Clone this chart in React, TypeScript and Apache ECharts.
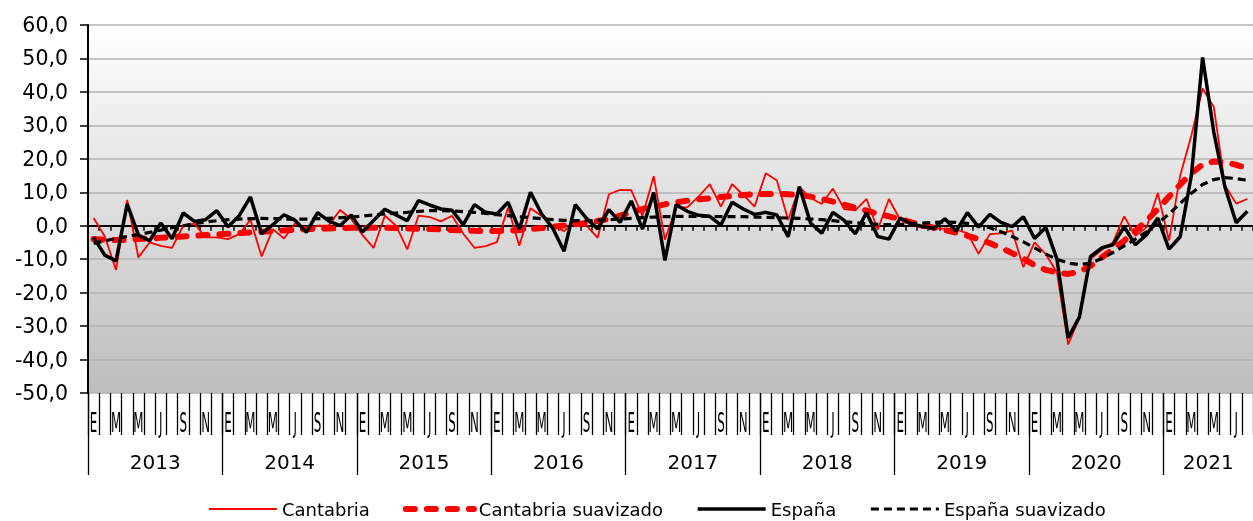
import React, { useEffect, useRef } from "react";
import * as echarts from "echarts";

const monthLetters = ["E", "F", "M", "A", "M", "J", "J", "A", "S", "O", "N", "D"];
const years = [2013, 2014, 2015, 2016, 2017, 2018, 2019, 2020, 2021];
const yearTickLabels = ["2013", "2014", "2015", "2016", "2017", "2018", "2019", "2020", "2021"];
const monthsIn2021 = 8;

const categories: string[] = [];
years.forEach((y, yi) => {
  const n = yi === years.length - 1 ? monthsIn2021 : 12;
  for (let m = 0; m < n; m++) categories.push(y + "-" + (m + 1));
});

const cantabria = [
  2.3, -3.2, -13.2, 7.7, -9.5, -5.0, -6.0, -6.6, 0.0, 0.6, -3.5, -3.5,
  -4.0, -2.5, 1.8, -9.2, -1.0, -3.8, 0.8, -1.5, 0.0, 0.1, 4.7, 2.0,
  -2.8, -6.6, 3.0, 0.0, -7.1, 3.0, 2.6, 1.3, 3.0, -2.4, -6.6, -6.1,
  -4.9, 5.4, -6.0, 5.2, 2.9, -0.1, -1.6, 1.4, 0.0, -3.6, 9.4, 10.7,
  10.6, 2.9, 14.8, -4.2, 5.5, 5.5, 8.7, 12.4, 5.7, 12.4, 9.2, 5.7,
  15.7, 13.5, 1.7, 11.5, 8.3, 6.5, 11.1, 5.0, 4.6, 8.0, -1.2, 8.0,
  1.8, 0.5, -0.7, -0.8, -0.9, -1.2, -2.2, -8.4, -2.5, -2.3, -1.5, -12.4,
  -5.0, -8.5, -14.0, -35.5, -27.5, -10.0, -7.2, -5.0, 2.8, -3.0, -0.5, 9.8,
  -4.4, 15.0, 27.0, 41.0, 35.5, 12.0, 6.6, 8.0,
];

const cantabriaSuav = [
  -4.0, -4.2, -4.3, -4.2, -4.0, -3.8, -3.6, -3.4, -3.2, -3.0, -2.8, -2.6,
  -2.4, -2.2, -2.0, -1.8, -1.6, -1.4, -1.2, -1.0, -0.9, -0.8, -0.7, -0.6,
  -0.6, -0.6, -0.6, -0.7, -0.8, -0.9, -1.0, -1.1, -1.3, -1.4, -1.5, -1.6,
  -1.6, -1.5, -1.3, -1.0, -0.7, -0.3, 0.1, 0.4, 0.8, 1.4, 2.0, 3.0,
  4.0, 5.0, 5.7, 6.4, 7.0, 7.5, 7.9, 8.2, 8.6, 8.9, 9.2, 9.4,
  9.5, 9.5, 9.4, 9.2, 8.7, 8.0, 7.2, 6.3, 5.4, 4.5, 3.6, 2.8,
  2.0, 1.0, 0.2, -0.6, -1.3, -2.1, -3.0, -4.0, -5.2, -6.6, -8.2, -9.8,
  -11.8, -13.2, -14.0, -14.4, -13.8, -12.0, -9.5, -7.0, -4.5, -1.5, 1.5, 5.0,
  8.7, 12.3, 15.7, 18.3, 19.2, 19.0, 18.2, 17.2,
];

const espana = [
  -3.5, -8.8, -10.5, 6.5, -2.8, -4.5, 0.8, -3.9, 3.8, 1.3, 1.8, 4.5,
  -0.3, 3.0, 8.6, -2.4, 0.3, 3.3, 1.6, -2.0, 3.9, 1.4, 0.0, 3.2,
  -1.9, 1.6, 4.9, 3.2, 1.5, 7.5, 6.2, 5.0, 4.6, 0.3, 6.3, 4.0,
  3.5, 7.0, -1.1, 10.0, 3.5, -0.8, -7.6, 6.3, 2.2, -1.0, 4.8, 1.0,
  7.4, -1.0, 9.9, -10.4, 6.3, 4.3, 3.1, 2.8, 0.2, 7.0, 5.0, 3.4,
  4.0, 3.2, -3.3, 11.7, 0.8, -2.2, 4.0, 1.6, -2.4, 3.9, -3.2, -4.0,
  2.3, 0.5, -0.2, -0.8, 2.1, -1.6, 3.9, -0.4, 3.4, 1.0, -0.3, 2.7,
  -3.8, -0.5, -10.0, -33.5, -27.3, -9.2, -6.6, -5.7, -0.3, -5.7, -2.7, 2.3,
  -7.0, -3.3, 15.0, 50.3, 28.0, 11.5, 0.9, 4.3,
];

const espanaSuav = [
  -5.3, -4.5, -3.8, -3.2, -2.6, -2.0, -1.3, -0.6, 0.0, 0.6, 1.1, 1.5,
  1.8, 2.0, 2.1, 2.2, 2.1, 2.0, 2.0, 2.0, 2.1, 2.2, 2.4, 2.6,
  2.9, 3.2, 3.5, 3.8, 4.0, 4.3, 4.5, 4.5, 4.4, 4.2, 4.0, 3.7,
  3.3, 3.0, 2.7, 2.4, 2.1, 1.8, 1.6, 1.5, 1.5, 1.6, 1.8, 2.0,
  2.2, 2.4, 2.6, 2.7, 2.8, 2.8, 2.8, 2.8, 2.7, 2.7, 2.7, 2.6,
  2.5, 2.4, 2.3, 2.2, 2.0, 1.8, 1.5, 1.2, 0.9, 0.6, 0.4, 0.3,
  0.4, 0.6, 0.8, 1.0, 1.1, 1.0, 0.7, 0.2, -0.6, -1.8, -3.2, -4.8,
  -6.6, -8.5, -10.0, -11.2, -11.6, -11.2, -9.8, -8.0, -6.0, -4.0, -1.8, 0.8,
  3.5, 6.7, 9.7, 12.3, 13.8, 14.4, 14.1, 13.6,
];

const FONT = "DejaVu Sans, Verdana, sans-serif";

export default function App() {
  const ref = useRef<HTMLDivElement | null>(null);

  useEffect(() => {
    if (!ref.current) return;
    const chart = echarts.init(ref.current, null, { renderer: "svg" });
    const n = categories.length;
    const yearStarts: number[] = [];
    const yearCenters: number[] = [];
    let acc = 0;
    years.forEach((y, yi) => {
      const len = yi === years.length - 1 ? monthsIn2021 : 12;
      yearStarts.push(acc);
      yearCenters.push(acc + len / 2);
      acc += len;
    });

    const option: any = {
      animation: false,
      grid: {
        left: 88,
        top: 25,
        bottom: 128,
        right: -10.2,
        show: true,
        borderWidth: 0,
        backgroundColor: new echarts.graphic.LinearGradient(0, 0, 0, 1, [
          { offset: 0, color: "#ffffff" },
          { offset: 1, color: "#bdbdbd" },
        ]),
      },
      xAxis: [
        {
          type: "category",
          data: categories,
          boundaryGap: true,
          position: "bottom",
          axisLine: { show: true, onZero: true, lineStyle: { color: "#000", width: 2 } },
          axisTick: { show: true, interval: 0, length: 5, lineStyle: { color: "#000", width: 1.5 } },
          axisLabel: { show: false },
          splitLine: { show: false },
          z: 1,
        },
        {
          type: "category",
          data: categories,
          boundaryGap: true,
          position: "bottom",
          axisLine: { show: false, onZero: false },
          axisTick: { show: true, interval: 0, length: 42, lineStyle: { color: "#000", width: 1.3 } },
          axisLabel: { show: false },
          splitLine: { show: false },
        },
        {
          type: "value",
          min: 0,
          max: n,
          position: "bottom",
          axisLine: { show: false, onZero: false },
          axisTick: {
            show: true,
            customValues: yearStarts,
            length: 82,
            lineStyle: { color: "#000", width: 1.3 },
          },
          axisLabel: {
            show: true,
            customValues: yearCenters,
            margin: 59,
            fontSize: 20,
            fontFamily: FONT,
            color: "#000",
            formatter: (v: number) => {
              const idx = yearCenters.findIndex((c) => Math.abs(c - v) < 0.01);
              return idx >= 0 ? yearTickLabels[idx] : "";
            },
          },
          splitLine: { show: false },
        },
      ],
      yAxis: {
        type: "value",
        min: -50,
        max: 60,
        interval: 10,
        axisLine: { show: true, onZero: false, lineStyle: { color: "#000", width: 2 } },
        axisTick: { show: true, length: 8, lineStyle: { color: "#000", width: 1.5 } },
        axisLabel: {
          fontSize: 20.5,
          fontFamily: FONT,
          color: "#000",
          margin: 20,
          formatter: (v: number) => v.toFixed(1).replace(".", ","),
        },
        splitLine: { show: true, lineStyle: { color: "#b3b3b3", width: 1.6 } },
      },
      legend: {
        left: 208,
        top: 500,
        itemWidth: 68,
        itemHeight: 12,
        itemGap: 33,
        padding: 0,
        itemStyle: { opacity: 0 },
        lineStyle: { width: "inherit", type: "inherit", cap: "inherit" },
        textStyle: { fontSize: 18, fontFamily: FONT, color: "#000" },
        data: ["Cantabria", "Cantabria suavizado", "España", "España suavizado"],
      },
      series: [
        {
          name: "Cantabria",
          type: "line",
          data: cantabria,
          symbol: "none",
          lineStyle: { color: "#ff0000", width: 1.8 },
          itemStyle: { color: "#ff0000" },
        },
        {
          name: "Cantabria suavizado",
          type: "line",
          data: cantabriaSuav,
          symbol: "none",
          lineStyle: { color: "#ff0000", width: 6, type: [9, 12], cap: "round" },
          itemStyle: { color: "#ff0000" },
        },
        {
          name: "España",
          type: "line",
          data: espana,
          symbol: "none",
          lineStyle: { color: "#000000", width: 3.5 },
          itemStyle: { color: "#000000" },
        },
        {
          name: "España suavizado",
          type: "line",
          data: espanaSuav,
          symbol: "none",
          lineStyle: { color: "#000000", width: 3.2, type: [8, 5] },
          itemStyle: { color: "#000000" },
        },
      ],
    };
    chart.setOption(option);

    // Month initials under the axis, positioned through the category axis scale
    const baseY = chart.convertToPixel({ yAxisIndex: 0 } as any, -50) as number;
    const elements: any[] = [];
    for (let i = 0; i < n; i += 2) {
      const px = chart.convertToPixel({ xAxisIndex: 1 } as any, i) as number;
      elements.push({
        type: "text",
        x: px,
        y: baseY + 30,
        scaleX: 0.44,
        scaleY: 1,
        silent: true,
        style: {
          text: monthLetters[i % 12],
          fontSize: 27,
          fontFamily: FONT,
          fill: "#000",
          textAlign: "center",
          textVerticalAlign: "middle",
          align: "center",
          verticalAlign: "middle",
        },
      });
    }
    chart.setOption({ graphic: { elements } });

    return () => chart.dispose();
  }, []);

  return (
    <div
      ref={ref}
      style={{ position: "fixed", left: 0, top: 0, width: 1253, height: 521 }}
    />
  );
}
